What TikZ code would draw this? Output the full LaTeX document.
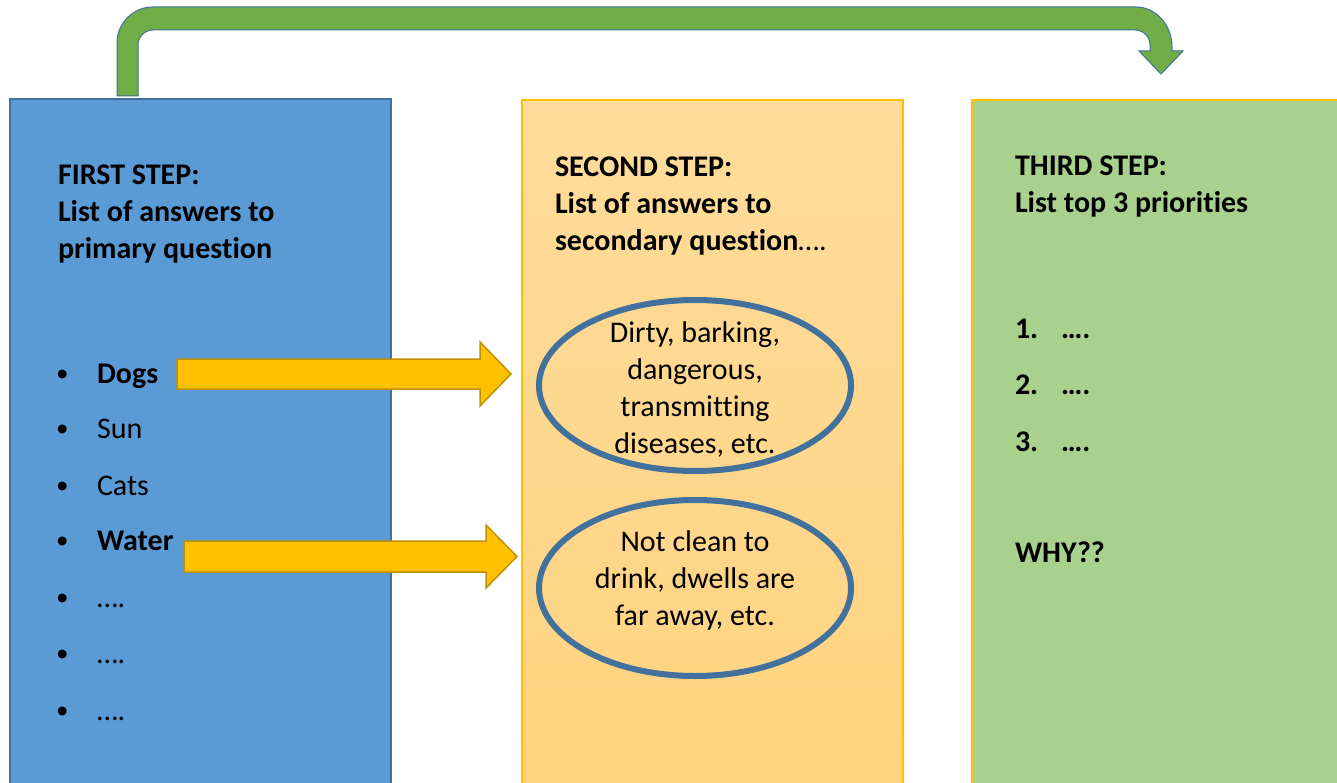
\documentclass[tikz,border=0pt]{standalone}
\usepackage{fontspec}
\setmainfont{Carlito}[Ligatures=NoCommon]
\usetikzlibrary{shapes.geometric}

\definecolor{stepblue}{HTML}{5B9BD5}
\definecolor{stepblueline}{HTML}{41719C}
\definecolor{sandtop}{HTML}{FFDC9B}
\definecolor{sandbottom}{HTML}{FFD37F}
\definecolor{steplime}{HTML}{A9D18E}
\definecolor{gold}{HTML}{FFC000}
\definecolor{golddark}{HTML}{BF9000}
\definecolor{turngreen}{HTML}{70AD47}

\newcommand\topstrut{\rule{0pt}{24pt}}

\tikzset{
  every node/.style={inner sep=0pt, outer sep=0pt},
  bodytext/.style={font=\fontsize{30}{37}\selectfont},
  boldtext/.style={font=\fontsize{30}{37}\selectfont\bfseries},
  steptitle/.style={boldtext, anchor=north west, align=left},
  item/.style={bodytext, anchor=base west},
  bolditem/.style={boldtext, anchor=base west},
  bulletmark/.style={font=\fontsize{25}{30}\selectfont, anchor=base west},
  ringtext/.style={bodytext, anchor=north, align=center},
  ring/.style={draw=stepblueline, line width=6pt, ellipse},
  blockarrow/.style={fill=gold, draw=golddark, line width=1.5pt, line join=miter},
  uturn/.style={fill=turngreen, draw=stepblueline, line width=1pt, line join=miter}
}

\begin{document}
\begin{tikzpicture}[x=1pt, y=-1pt]
  \useasboundingbox (0,0) rectangle (1337,783);

  % the three step columns
  \fill[white] (0,0) rectangle (1337,783);
  \draw[fill=stepblue, draw=stepblueline, line width=1.5pt] (10,99) rectangle (391,800);
  \shade[top color=sandtop, bottom color=sandbottom] (522,100) rectangle (903,800);
  \draw[gold, line width=1.2pt] (522,100) rectangle (903,800);
  \draw[fill=steplime, draw=gold, line width=1.2pt] (972,100) rectangle (1350,800);

  % U-turn arrow from the first column to the third
  \draw[uturn]
    (117,96) -- (117,43)
    .. controls (117,23.1) and (133.1,7) .. (153,7)
    -- (1136,7)
    .. controls (1155.9,7) and (1172,24.9) .. (1172,47)
    -- (1172,51) -- (1183,51) -- (1161,74) -- (1139,51) -- (1150,51) -- (1150,45)
    .. controls (1150,36.7) and (1143.3,30) .. (1135,30)
    -- (153,30)
    .. controls (144.7,30) and (138,36.7) .. (138,45)
    -- (138,96) -- cycle;

  % step titles
  \node[steptitle] (first) at (58,161) {\topstrut FIRST STEP:\\List of answers to\\primary question};
  \node[steptitle] (second) at (555,153) {\topstrut SECOND STEP:\\List of answers to\\secondary question\mdseries….};
  \node[steptitle] (third) at (1015,152) {\topstrut THIRD STEP:\\List top 3 priorities};

  % first column: bullet list
  \foreach \y/\n in {383/1,438/2,495/3,550/4,607/5,663/6,720/7}
    \node[bulletmark] (dot\n) at (56,\y-2) {•};
  \node[bolditem] (dogs)  at (97,383) {Dogs};
  \node[item]     (sun)   at (97,438) {Sun};
  \node[item]     (cats)  at (97,495) {Cats};
  \node[bolditem] (water) at (97,550) {Water};
  \node[item] (more1) at (97,607) {….};
  \node[item] (more2) at (97,663) {….};
  \node[item] (more3) at (97,720) {….};

  % second column: answer rings
  \node[ring, minimum width=312pt, minimum height=171pt] (ringA) at (695,385.5) {};
  \node[ring, minimum width=312pt, minimum height=176pt] (ringB) at (695,588) {};
  \node[ringtext] (ringAtext) at (695,318) {\topstrut Dirty, barking,\\dangerous,\\transmitting\\diseases, etc.};
  \node[ringtext] (ringBtext) at (695,527) {\topstrut Not clean to\\drink, dwells are\\far away, etc.};

  % block arrows from the bold answers to their rings
  \coordinate (dogsTail) at (177,374);
  \coordinate (dogsTip) at (511,374);
  \draw[blockarrow]
    ([yshift=15pt]dogsTail) -- (480,359) -- (480,342) -- (dogsTip)
    -- (480,406) -- (480,389) -- ([yshift=-15pt]dogsTail) -- cycle;
  \coordinate (waterTail) at (184,556.5);
  \coordinate (waterTip) at (517,556.5);
  \draw[blockarrow]
    ([yshift=15.5pt]waterTail) -- (486,541) -- (486,525) -- (waterTip)
    -- (486,588) -- (486,572) -- ([yshift=-15.5pt]waterTail) -- cycle;

  % third column: priorities
  \node[bolditem] (n1) at (1015,338) {1.};
  \node[bolditem] (n2) at (1015,394) {2.};
  \node[bolditem] (n3) at (1015,451) {3.};
  \node[bolditem] (p1) at (1061,338) {….};
  \node[bolditem] (p2) at (1061,394) {….};
  \node[bolditem] (p3) at (1061,451) {….};
  \node[bolditem] (why) at (1015,562) {WHY??};
\end{tikzpicture}
\end{document}
